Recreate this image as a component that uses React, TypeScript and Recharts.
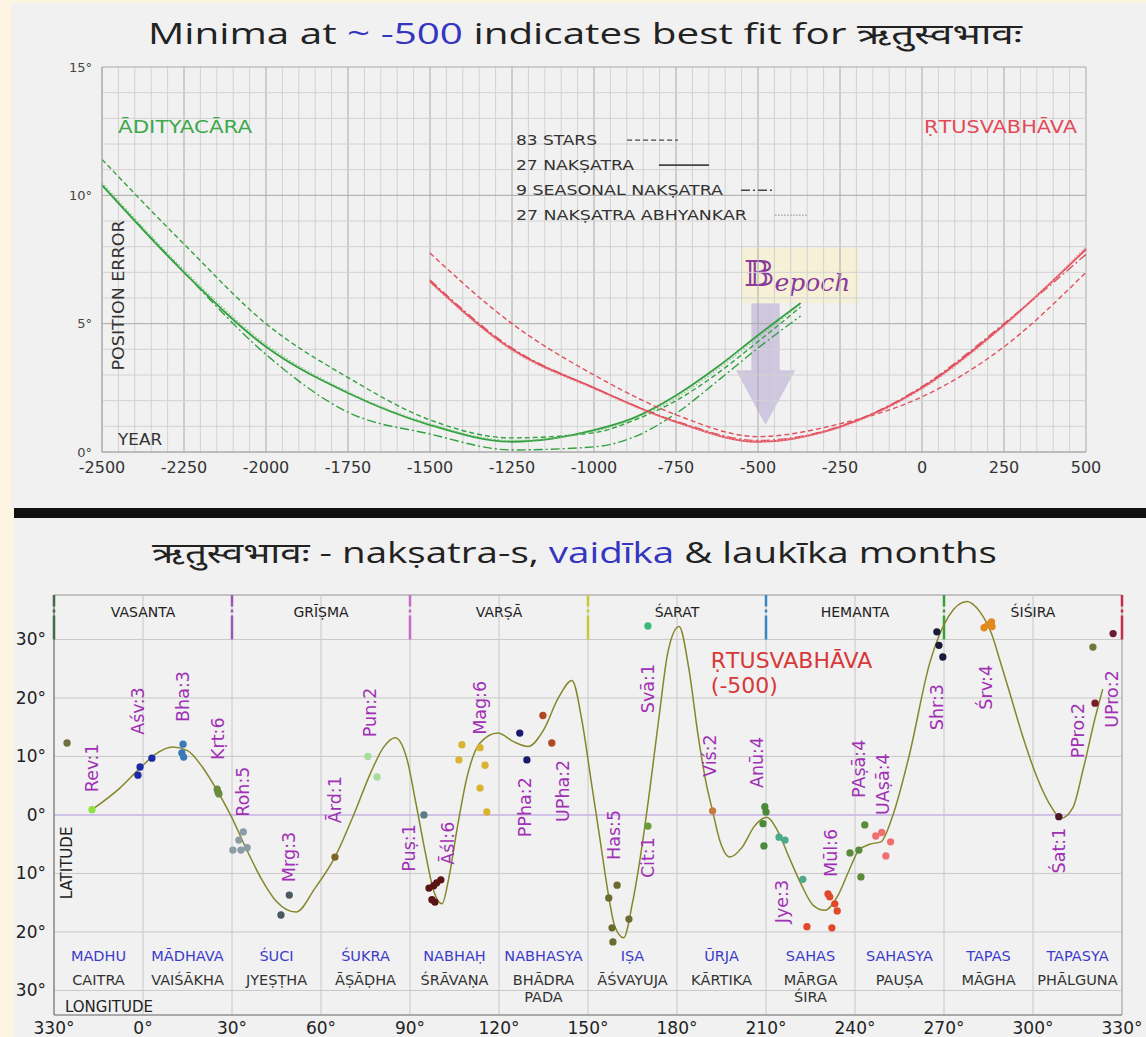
import React from 'react';
import {
  LineChart, Line, ComposedChart, Scatter, XAxis, YAxis, ZAxis, CartesianGrid,
  ReferenceLine, ReferenceDot, ReferenceArea,
} from 'recharts';

// ---------- top panel: position error vs year ----------
const GREEN_YEARS = [-2500, -2250, -2000, -1750, -1500, -1250, -1000, -875, -750, -625, -500, -370];
const GREEN_83 = [11.4, 8.1, 5.0, 2.9, 1.25, 0.55, 0.75, 1.25, 2.0, 3.05, 4.3, 5.65];
const GREEN_27 = [10.4, 7.0, 4.1, 2.3, 1.05, 0.4, 0.85, 1.35, 2.2, 3.3, 4.55, 5.8];
const GREEN_9 = [10.4, 7.0, 3.8, 1.55, 0.7, 0.08, 0.2, 0.6, 1.5, 2.75, 4.05, 5.3];
const GREEN_ABH = [10.5, 7.1, 4.2, 2.35, 1.1, 0.45, 0.8, 1.3, 2.1, 3.2, 4.45, 5.75];

const RED_YEARS = [-1500, -1250, -1000, -750, -500, -250, 0, 250, 500];
const RED_83 = [7.75, 5.0, 3.0, 1.45, 0.6, 1.1, 2.15, 4.1, 7.0];
const RED_27 = [6.65, 4.0, 2.5, 1.17, 0.4, 0.98, 2.5, 4.95, 7.9];
const RED_9 = [6.7, 4.05, 2.5, 1.2, 0.45, 1.0, 2.55, 5.0, 7.7];
const RED_ABH = [6.6, 3.95, 2.45, 1.15, 0.42, 0.95, 2.45, 4.9, 8.0];

const YEAR_TICKS = [-2500, -2250, -2000, -1750, -1500, -1250, -1000, -750, -500, -250, 0, 250, 500];
const ERR_TICKS = [0, 5, 10, 15];
const LEGEND_LABELS = ['83 STARS', '27 NAKṢATRA', '9 SEASONAL NAKṢATRA', '27 NAKṢATRA ABHYANKAR'];
const LEGEND_WIDTHS = [81, 118, 207, 231];

// ---------- bottom panel: latitude vs longitude ----------
const CURVE_LON = [-17.2, -8, -1, 4, 10, 15, 20, 25.3, 29.5, 35, 40, 45, 51.6, 58, 64.7, 71, 77, 81, 85, 89, 92, 95, 98, 100.8, 103, 106, 109, 113.6, 119.6, 125, 129.8, 135, 140, 144.6, 148, 151, 154, 157, 159, 162, 165, 168, 171, 174, 177, 180.7, 184, 187, 190, 192, 194.5, 197.8, 202, 206, 210.3, 214, 218, 222, 226, 229.9, 234, 238, 241.3, 245, 248.7, 252.8, 258.2, 265.2, 271.6, 277.7, 282, 286, 288.8, 292.2, 296.5, 301.3, 306.4, 309.4, 313.4, 317, 320.9, 323.5];
const CURVE_LAT = [0.9, 4.5, 8, 10.3, 11.6, 11, 8.2, 3.9, 0, -6, -11, -14.8, -16.6, -12.5, -7.2, 0, 7.5, 11.5, 13.2, 9.5, 2, -6, -13, -15.2, -11, -2, 6, 12.3, 14, 12.5, 11.7, 14.5, 20, 23, 16, 6, -4, -14, -19, -21, -15, -6, 5, 17, 28, 32.2, 25, 14, 5, 0.7, -4.5, -7.2, -5.5, -2, -0.4, -2.8, -7.5, -12, -15.5, -16.3, -14, -9.5, -6, -5, -4.6, 0, 10, 26, 34, 36.5, 34.8, 31, 26.5, 20.8, 13.5, 6.5, 1.2, -0.6, 1.2, 8, 16.5, 21.5];

type Star = { name: string; color: string; lon: number[]; lat: number[] };
const STARS: Star[] = [
  { name: 'x', color: '#6e6e40', lon: [-25.6], lat: [12.3] },
  { name: 'Rev', color: '#90e040', lon: [-17.2], lat: [0.9] },
  { name: 'Asv', color: '#1c2aa8', lon: [-1.7, -1, 3], lat: [6.8, 8.2, 9.7] },
  { name: 'Bha', color: '#3a7ab8', lon: [13.5, 13.1, 13.7], lat: [12.1, 10.6, 9.9] },
  { name: 'Krt', color: '#6a8c40', lon: [25.3, 25, 25.6], lat: [3.9, 4.4, 3.6] },
  { name: 'Roh', color: '#8c9ca4', lon: [30.3, 32.3, 33.8, 35.1, 33], lat: [-6, -4.3, -2.9, -5.6, -6] },
  { name: 'Mrg', color: '#4a5860', lon: [46.5, 49.3], lat: [-17.1, -13.7] },
  { name: 'Ard', color: '#7a6620', lon: [64.7], lat: [-7.2] },
  { name: 'Pun', color: '#a8dc9c', lon: [75.8, 78.9], lat: [10, 6.5] },
  { name: 'Pus', color: '#5a7c84', lon: [94.7], lat: [0] },
  { name: 'Asl', color: '#5a1414', lon: [96.4, 97.4, 98.4, 99, 100.4, 98], lat: [-12.5, -14.5, -14.9, -11.6, -11.1, -12.1] },
  { name: 'Mag', color: '#d8b430', lon: [107.5, 106.5, 113.6, 115.3, 113.6, 115.9], lat: [12, 9.4, 11.5, 8.5, 4.6, 0.5] },
  { name: 'PPha', color: '#1a1a6a', lon: [127, 129.4], lat: [14, 9.4] },
  { name: 'UPha', color: '#b04a22', lon: [134.8, 137.8], lat: [17, 12.3] },
  { name: 'Has', color: '#6b6b30', lon: [157, 159.8, 158.1, 158.4, 163.8], lat: [-14.2, -12, -19.3, -21.7, -17.8] },
  { name: 'Cit', color: '#6a9a3a', lon: [170.2], lat: [-1.9] },
  { name: 'Sva', color: '#3cb878', lon: [170.2], lat: [32.3] },
  { name: 'Vis', color: '#c87a3a', lon: [192], lat: [0.7] },
  { name: 'Anu', color: '#4a8a3a', lon: [209.6, 210, 209, 209.3], lat: [1.4, 0.5, -1.5, -5.3] },
  { name: 'Jye', color: '#4aaa8a', lon: [214.4, 216.4, 222.4], lat: [-3.8, -4.3, -11] },
  { name: 'Mul', color: '#e04a2a', lon: [230.9, 233.2, 234, 223.8, 232.2, 231.5], lat: [-13.5, -15.2, -16.4, -19.1, -19.3, -14] },
  { name: 'PAsa', color: '#5a8a3a', lon: [238.3, 241.3, 243.3, 242], lat: [-6.5, -6, -1.7, -10.6] },
  { name: 'UAsa', color: '#f07070', lon: [247, 249, 252, 250.4], lat: [-3.6, -3, -4.6, -7] },
  { name: 'Shr', color: '#1a1a3a', lon: [267.6, 268.3, 269.6], lat: [31.3, 29, 27] },
  { name: 'Srv', color: '#e08a20', lon: [283.5, 284.8, 286, 286.2], lat: [32, 32.5, 33, 32.2] },
  { name: 'Sat', color: '#4a1a2a', lon: [308.7], lat: [-0.3] },
  { name: 'PPro', color: '#6a7a3a', lon: [320.2], lat: [28.7] },
  { name: 'PPro2', color: '#7a1a2a', lon: [320.9], lat: [19.1] },
  { name: 'UPro', color: '#6a1a3a', lon: [327], lat: [31] },
];

const NAK_LABELS = ['Rev:1', 'Aśv:3', 'Bha:3', 'Kṛt:6', 'Roh:5', 'Mṛg:3', 'Ārd:1', 'Pun:2', 'Puṣ:1', 'Āśl:6', 'Mag:6', 'PPha:2', 'UPha:2', 'Has:5', 'Cit:1', 'Svā:1', 'Viś:2', 'Anū:4', 'Jye:3', 'Mūl:6', 'PAṣā:4', 'UAṣā:4', 'Shr:3', 'Śrv:4', 'Śat:1', 'PPro:2', 'UPro:2'];
const NAK_LON = [-17.2, -1.7, 13.5, 25.3, 33.7, 49.2, 64.7, 76.5, 89.6, 102.8, 113.6, 128.8, 141.6, 158.7, 170.2, 170.2, 191.1, 207, 215.3, 231.9, 241.3, 249.4, 267.6, 284.1, 308.7, 315.2, 326.6];
const NAK_LAT = [3.9, 13.7, 15.9, 9.4, -0.3, -11.5, -1.4, 13.3, -9.7, -8.5, 13.7, -3.8, -1.2, -7.7, -10.8, 17.4, 6.5, 4.6, -18.5, -10.6, 2.9, 0, 14.5, 18, -10, 9.7, 14.9];

const SEASONS = ['VASANTA', 'GRĪṢMA', 'VARṢĀ', 'ŚARAT', 'HEMANTA', 'ŚIŚIRA'];
const SEASON_LON = [0, 60, 120, 180, 240, 300];
const DIVIDER_LON = [-30, 30, 90, 150, 210, 270, 330];
const DIVIDER_COLORS = ['#2e6b2e', '#9b59b6', '#c86bc8', '#c8c83a', '#3a86c0', '#3aa03a', '#c0304a'];

const VAIDIKA = ['MADHU', 'MĀDHAVA', 'ŚUCI', 'ŚUKRA', 'NABHAḤ', 'NABHASYA', 'IṢA', 'ŪRJA', 'SAHAS', 'SAHASYA', 'TAPAS', 'TAPASYA'];
const LAUKIKA = ['CAITRA', 'VAIŚĀKHA', 'JYEṢṬHA', 'ĀṢĀḌHA', 'ŚRĀVAṆA', 'BHĀDRA', 'ĀŚVAYUJA', 'KĀRTIKA', 'MĀRGA', 'PAUṢA', 'MĀGHA', 'PHĀLGUNA'];
const LAUKIKA_2 = ['', '', '', '', '', 'PADA', '', '', 'ŚIRA', '', '', ''];
const MONTH_LON = [-15, 15, 45, 75, 105, 135, 165, 195, 225, 255, 285, 315];
const LON_TICKS = [-30, 0, 30, 60, 90, 120, 150, 180, 210, 240, 270, 300, 330];
const LAT_TICKS = [-30, -20, -10, 0, 10, 20, 30];

const FONT = '"DejaVu Sans", Verdana, sans-serif';
const TITLE_FONT = '"Open Sans", "Noto Sans", "Noto Sans Devanagari", sans-serif';

const zip = (xs: number[], ys: number[]) => xs.map((x, i) => ({ x, y: ys[i] }));

// grid positions for the top panel
const MINOR_YEARS = Array.from({ length: 61 }, (_, i) => -2500 + i * 50);
const MINOR_DEG = Array.from({ length: 16 }, (_, i) => i);

const note = (key: string, x: number, y: number, text: React.ReactNode, style: any, rotate = false) => (
  <ReferenceDot
    key={key}
    x={x}
    y={y}
    r={1}
    ifOverflow="visible"
    shape={(p: any) => (
      <text
        x={p.cx}
        y={p.cy}
        transform={rotate ? `rotate(-90 ${p.cx} ${p.cy})` : undefined}
        fontFamily={FONT}
        dominantBaseline="central"
        {...style}
      >
        {text}
      </text>
    )}
  />
);

const TopChart = () => {
  const green = '#34a040';
  const red = '#e0505e';
  return (
    <LineChart width={1146} height={505} margin={{ top: 67, right: 60, bottom: 23, left: 62 }}>
      {MINOR_YEARS.map((v) => (
        <ReferenceLine key={'vx' + v} x={v} stroke={v % 250 === 0 ? '#a8a8a8' : '#d2d2d2'} strokeWidth={1} />
      ))}
      {MINOR_DEG.map((v) => (
        <ReferenceLine key={'hy' + v} y={v} stroke={v % 5 === 0 ? '#a8a8a8' : '#d2d2d2'} strokeWidth={1} />
      ))}
      <XAxis
        type="number"
        dataKey="x"
        domain={[-2500, 500]}
        ticks={YEAR_TICKS}
        height={30}
        tickLine={false}
        axisLine={{ stroke: '#aaa' }}
        tick={{ fill: '#333', fontSize: 16, fontFamily: FONT }}
        tickMargin={4}
      />
      <YAxis
        type="number"
        dataKey="y"
        domain={[0, 15]}
        ticks={ERR_TICKS}
        width={40}
        tickLine={false}
        axisLine={{ stroke: '#aaa' }}
        tick={{ fill: '#444', fontSize: 13, fontFamily: FONT }}
        tickFormatter={(v) => `${v}°`}
        tickMargin={4}
      />
      <Line data={zip(GREEN_YEARS, GREEN_83)} dataKey="y" type="monotone" stroke={green} strokeWidth={1.4} strokeDasharray="5 3" dot={false} isAnimationActive={false} />
      <Line data={zip(GREEN_YEARS, GREEN_27)} dataKey="y" type="monotone" stroke={green} strokeWidth={1.8} dot={false} isAnimationActive={false} />
      <Line data={zip(GREEN_YEARS, GREEN_9)} dataKey="y" type="monotone" stroke={green} strokeWidth={1.4} strokeDasharray="9 3 2 3" dot={false} isAnimationActive={false} />
      <Line data={zip(GREEN_YEARS, GREEN_ABH)} dataKey="y" type="monotone" stroke="#7cc880" strokeWidth={1.2} strokeDasharray="1.5 2" dot={false} isAnimationActive={false} />
      <Line data={zip(RED_YEARS, RED_83)} dataKey="y" type="monotone" stroke={red} strokeWidth={1.4} strokeDasharray="5 3" dot={false} isAnimationActive={false} />
      <Line data={zip(RED_YEARS, RED_27)} dataKey="y" type="monotone" stroke={red} strokeWidth={1.8} dot={false} isAnimationActive={false} />
      <Line data={zip(RED_YEARS, RED_9)} dataKey="y" type="monotone" stroke={red} strokeWidth={1.4} strokeDasharray="9 3 2 3" dot={false} isAnimationActive={false} />
      <Line data={zip(RED_YEARS, RED_ABH)} dataKey="y" type="monotone" stroke="#f09098" strokeWidth={1.2} strokeDasharray="1.5 2" dot={false} isAnimationActive={false} />

      {note('adit', -2451, 12.7, 'ĀDITYACĀRA', { fill: '#3da84a', fontSize: 18, textLength: 134, lengthAdjust: 'spacingAndGlyphs' })}
      {note('rtu', 6, 12.7, 'ṚTUSVABHĀVA', { fill: '#e24a5a', fontSize: 18, textLength: 153, lengthAdjust: 'spacingAndGlyphs' })}
      {note('pos', -2451, 6.1, 'POSITION ERROR', { fill: '#333', fontSize: 16, textAnchor: 'middle', textLength: 150, lengthAdjust: 'spacingAndGlyphs' }, true)}
      {note('year', -2451, 0.45, 'YEAR', { fill: '#333', fontSize: 15, textLength: 44, lengthAdjust: 'spacingAndGlyphs' })}
      {LEGEND_LABELS.map((t, i) =>
        note('lg' + i, -1238, [12.15, 11.18, 10.2, 9.23][i], t, {
          fill: '#333', fontSize: 14, textLength: LEGEND_WIDTHS[i], lengthAdjust: 'spacingAndGlyphs',
        }),
      )}
      <ReferenceLine segment={[{ x: -899, y: 12.15 }, { x: -744, y: 12.15 }]} stroke="#444" strokeDasharray="5 3" strokeWidth={1.3} />
      <ReferenceLine segment={[{ x: -802, y: 11.18 }, { x: -649, y: 11.18 }]} stroke="#444" strokeWidth={1.8} />
      <ReferenceLine segment={[{ x: -552, y: 10.2 }, { x: -448, y: 10.2 }]} stroke="#444" strokeDasharray="9 3 2 3" strokeWidth={1.5} />
      <ReferenceLine segment={[{ x: -448, y: 9.23 }, { x: -351, y: 9.23 }]} stroke="#999" strokeDasharray="1.5 1.5" strokeWidth={1.2} />

      {/* epoch arrow */}
      <ReferenceArea
        x1={-567}
        x2={-387}
        y1={1.05}
        y2={5.8}
        ifOverflow="visible"
        shape={(p: any) => {
          const { x, y, width: w, height: h } = p;
          const sw = w * 0.24;
          const cx = x + w / 2;
          const hy = y + h * 0.55;
          const pts = [
            [cx - sw, y], [cx + sw, y], [cx + sw, hy], [x + w, hy], [cx, y + h], [x, hy], [cx - sw, hy],
          ].map((q) => q.join(',')).join(' ');
          return <polygon points={pts} fill="#c8bfdc" fillOpacity={0.85} />;
        }}
      />
      {/* epoch box */}
      <ReferenceArea
        x1={-552}
        x2={-192}
        y1={5.8}
        y2={7.95}
        ifOverflow="visible"
        shape={(p: any) => (
          <g>
            <rect x={p.x} y={p.y} width={p.width} height={p.height} fill="#f5f0d6" />
            <text x={p.x + 3} y={p.y + 38} fill="#8b3a9b" fontFamily='"DejaVu Serif", serif'>
              <tspan fontSize={36}>𝔹</tspan>
              <tspan fontSize={25} fontStyle="italic" dy={5}>epoch</tspan>
            </text>
          </g>
        )}
      />
    </LineChart>
  );
};

const BottomChart = () => (
  <ComposedChart width={1146} height={477} margin={{ top: 35, right: 24, bottom: 0, left: 4 }}>
    <CartesianGrid stroke="#c8c8c8" strokeWidth={1} />
    <XAxis
      type="number"
      dataKey="x"
      domain={[-30, 330]}
      ticks={LON_TICKS}
      allowDataOverflow
      height={22}
      tickLine={false}
      axisLine={{ stroke: '#777' }}
      tick={{ fill: '#222', fontSize: 17, fontFamily: FONT }}
      tickFormatter={(v) => `${v < 0 ? v + 360 : v}°`}
      tickMargin={1}
    />
    <YAxis
      type="number"
      dataKey="y"
      domain={[-34.2, 37.6]}
      ticks={LAT_TICKS}
      allowDataOverflow
      width={50}
      tickLine={false}
      tickSize={0}
      axisLine={{ stroke: '#666' }}
      tick={{ fill: '#222', fontSize: 17, fontFamily: FONT }}
      tickFormatter={(v) => `${Math.abs(v)}°`}
      tickMargin={8}
    />
    <ZAxis type="number" range={[42, 42]} />
    <ReferenceLine y={37.6} stroke="#aaa" />
    <ReferenceLine x={330} stroke="#aaa" />
    <ReferenceLine y={0} stroke="#cdb8ea" strokeWidth={1.5} />
    {DIVIDER_LON.map((lon, i) => (
      <ReferenceLine
        key={'dv' + lon}
        segment={[{ x: lon, y: 30 }, { x: lon, y: 37.6 }]}
        stroke={DIVIDER_COLORS[i]}
        strokeWidth={2.5}
        strokeDasharray="24 3 3 3"
      />
    ))}
    {SEASONS.map((s, i) => note('ss' + i, SEASON_LON[i], 34.7, s, { fill: '#222', fontSize: 14, textAnchor: 'middle' }))}
    {VAIDIKA.map((s, i) => note('vd' + i, MONTH_LON[i], -24.1, s, { fill: '#3c3cc8', fontSize: 14.5, textAnchor: 'middle' }))}
    {LAUKIKA.map((s, i) => note('lk' + i, MONTH_LON[i], -28.2, s, { fill: '#333', fontSize: 14.5, textAnchor: 'middle' }))}
    {LAUKIKA_2.map((s, i) => (s ? note('lk2' + i, MONTH_LON[i], -31.1, s, { fill: '#333', fontSize: 14.5, textAnchor: 'middle' }) : null))}
    {note('lat', -25.6, -8.2, 'LATITUDE', { fill: '#222', fontSize: 15, textAnchor: 'middle' }, true)}
    {note('lon', -26.3, -32.8, 'LONGITUDE', { fill: '#222', fontSize: 15 })}

    <Line data={zip(CURVE_LON, CURVE_LAT)} dataKey="y" type="monotone" stroke="#86862a" strokeWidth={1.5} dot={false} isAnimationActive={false} />
    {STARS.map((s) => (
      <Scatter key={s.name} data={zip(s.lon, s.lat)} fill={s.color} shape="circle" isAnimationActive={false} />
    ))}
    {NAK_LABELS.map((t, i) => note('nk' + i, NAK_LON[i], NAK_LAT[i], t, { fill: '#a030b4', fontSize: 17.5 }, true))}
    {note('rt1', 191.4, 26.4, 'ṚTUSVABHĀVA', { fill: '#d83838', fontSize: 22 })}
    {note('rt2', 191.4, 22.1, '(-500)', { fill: '#d83838', fontSize: 22 })}
  </ComposedChart>
);

export default function App() {
  return (
    <div style={{ position: 'absolute', left: 0, top: 0, width: 1146, height: 1037, background: '#fdf5e2', overflow: 'hidden' }}>
      <svg width={1146} height={1037} style={{ position: 'absolute', left: 0, top: 0 }}>
        <rect x={11} y={3} width={1135} height={505} fill="#f1f1f1" />
        <rect x={14} y={508} width={1132} height={10} fill="#111" />
        <rect x={14} y={518} width={1132} height={519} fill="#f1f1f1" />
        <text x={148} y={44} fontSize={29} fill="#222" fontFamily={TITLE_FONT} textLength={874} lengthAdjust="spacingAndGlyphs">
          Minima at <tspan fill="#3535c0">~ -500</tspan> indicates best fit for ऋतुस्वभावः
        </text>
        <text x={152} y={563} fontSize={29} fill="#222" fontFamily={TITLE_FONT} textLength={845} lengthAdjust="spacingAndGlyphs">
          ऋतुस्वभावः -  nakṣatra-s, <tspan fill="#3535c0">vaidīka</tspan> &amp; laukīka months
        </text>
      </svg>
      <div style={{ position: 'absolute', left: 0, top: 0 }}>
        <TopChart />
      </div>
      <div style={{ position: 'absolute', left: 0, top: 560 }}>
        <BottomChart />
      </div>
    </div>
  );
}
